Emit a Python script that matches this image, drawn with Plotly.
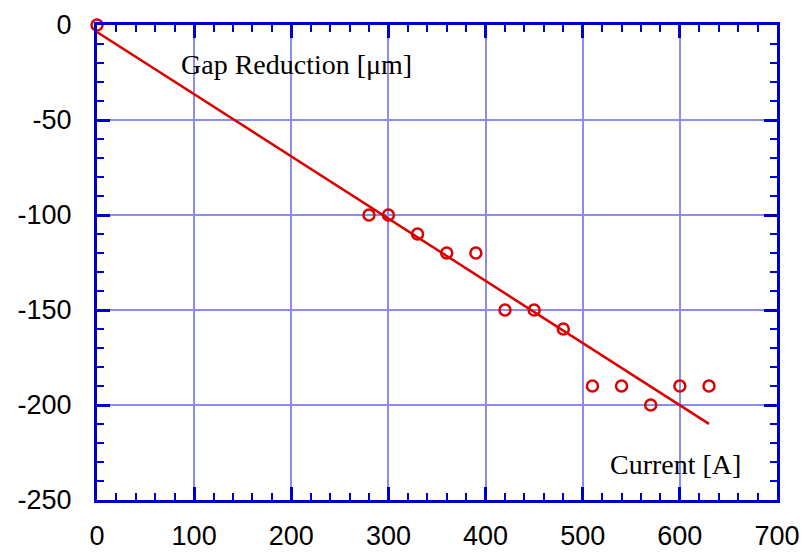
import numpy as np
import plotly.graph_objects as go

# Measured gap reduction versus coil current
current = [0, 280, 300, 330, 360, 390, 420, 450, 480, 510, 540, 570, 600, 630]
gap_reduction = [0, -100, -100, -110, -120, -120, -150, -150, -160, -190, -190, -200, -190, -190]

x_ticks = [0, 100, 200, 300, 400, 500, 600, 700]
y_ticks = [0, -50, -100, -150, -200, -250]
y_tick_labels = ["0", "-50", "-100", "-150", "-200", "-250"]

# Least-squares linear fit through the measurements
slope, intercept = np.polyfit(current, gap_reduction, 1)
fit_x = np.array([min(current), max(current)])
fit_y = slope * fit_x + intercept

RED = "#dd0000"
AXIS_BLUE = "#0000cc"
GRID_BLUE = "#8c8cf0"

fig = go.Figure()
fig.add_trace(go.Scatter(
    x=fit_x, y=fit_y, mode="lines",
    line=dict(color=RED, width=2.5), hoverinfo="skip", showlegend=False,
))
fig.add_trace(go.Scatter(
    x=current, y=gap_reduction, mode="markers", cliponaxis=False,
    marker=dict(symbol="circle-open", size=11, color=RED, line=dict(color=RED, width=2.5)),
    showlegend=False,
))

axis_common = dict(
    showline=True, linecolor=AXIS_BLUE, linewidth=3, mirror="allticks",
    ticks="inside", ticklen=13, tickwidth=3, tickcolor=AXIS_BLUE,
    showgrid=True, gridcolor=GRID_BLUE, gridwidth=2,
    zeroline=False, automargin=False,
    tickfont=dict(family="Liberation Sans, Arial, sans-serif", size=27, color="black"),
)

fig.update_xaxes(
    range=[0, 700], tickvals=x_ticks, ticklabelstandoff=10,
    minor=dict(dtick=20, ticks="inside", ticklen=7, tickwidth=2, tickcolor=AXIS_BLUE, showgrid=False),
    **axis_common,
)
fig.update_yaxes(
    range=[-250, 0], tickvals=y_ticks, ticktext=y_tick_labels, ticklabelstandoff=17,
    minor=dict(dtick=10, ticks="inside", ticklen=7, tickwidth=2, tickcolor=AXIS_BLUE, showgrid=False),
    **axis_common,
)

serif = dict(family="Liberation Serif, Times New Roman, serif", size=28, color="black")
fig.add_annotation(x=205, y=-21, xref="x", yref="y", text="Gap Reduction [μm]",
                   showarrow=False, font=serif)
fig.add_annotation(x=595, y=-231.5, xref="x", yref="y", text="Current [A]",
                   showarrow=False, font=serif)

fig.update_layout(
    width=808, height=556,
    margin=dict(l=97, r=31, t=25, b=56),
    plot_bgcolor="white", paper_bgcolor="white",
)

fig.write_html("out.html")
